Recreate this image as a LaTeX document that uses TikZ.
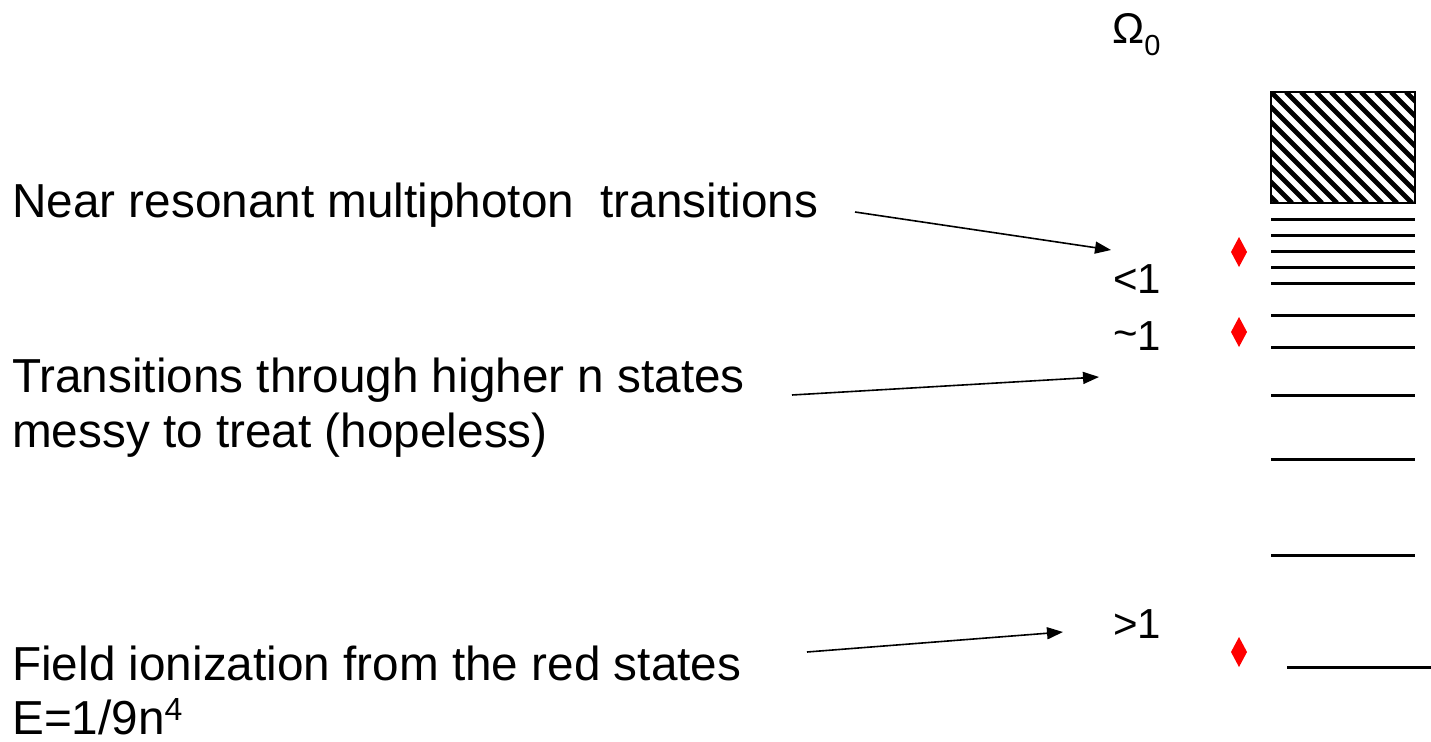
\documentclass[tikz,border=0pt]{standalone}
\usepackage{fontspec}
\setmainfont{Liberation Sans}
\usetikzlibrary{arrows.meta}
\newcommand{\supfour}{\raisebox{14pt}{\fontsize{32}{32}\selectfont 4}}
\begin{document}
\begin{tikzpicture}[x=1pt,y=-1pt,
  lbl/.style={anchor=base west,inner sep=0pt,font=\fontsize{47.7}{55}\selectfont},
  ratio/.style={anchor=base west,inner sep=0pt,font=\fontsize{42}{50}\selectfont},
  level/.style={line width=3pt},
  pointer/.style={line width=1.6pt,-{Triangle[length=16pt,width=12pt]}}]
\useasboundingbox (0,0) rectangle (1431,741);

% column heading
\node[anchor=base west,inner sep=0pt,font=\fontsize{43}{46}\selectfont] (om) at (1112,44)
  {\char"03A9\raisebox{-12pt}{\fontsize{29}{29}\selectfont 0}};

% continuum: hatched block
\begin{scope}
  \clip (1271,92) rectangle (1415,203);
  \foreach \k in {-120,-105,...,150}
    \draw[line width=4.8pt] (1271+\k,92) -- ++(111,111);
\end{scope}
\draw[line width=2.2pt] (1271,92) rectangle (1415,203);

% bound levels
\foreach \yy in {219,235,251,267,283,315,347,395,459,555}
  \draw[level] (1271,\yy) -- (1415,\yy);
\draw[level] (1287,667) -- (1431,667);

% red states
\foreach \nm/\yy in {d1/252,d2/332,d3/652}
  \fill[red] (1239,\yy-15) -- (1247,\yy) -- (1239,\yy+15) -- (1231,\yy) -- cycle
    coordinate (\nm) at (1239,\yy);

% ratio labels
\node[ratio] (lt) at (1113,293) {<1};
\node[ratio] (sim) at (1113,350) {\raisebox{3pt}{\char`~}1};
\node[ratio] (gt) at (1113,638) {>1};

% descriptions
\node[lbl] (t1) at (12,217) {Near resonant multiphoton\ \ transitions};
\node[lbl] (t2) at (12,392) {Transitions through higher n states};
\node[lbl] (t2b) at (12,447) {messy to treat (hopeless)};
\node[lbl] (t3) at (12,680) {Field ionization from the red states};
\node[lbl] (t3b) at (12,734) {E=1/9n\supfour};

% pointers
\coordinate (a1) at (855,212);  \coordinate (b1) at (1111,250);
\coordinate (a2) at (792,395);  \coordinate (b2) at (1099,377);
\coordinate (a3) at (807,652);  \coordinate (b3) at (1063,632);
\draw[pointer] (a1) -- (b1);
\draw[pointer] (a2) -- (b2);
\draw[pointer] (a3) -- (b3);
\end{tikzpicture}
\end{document}
